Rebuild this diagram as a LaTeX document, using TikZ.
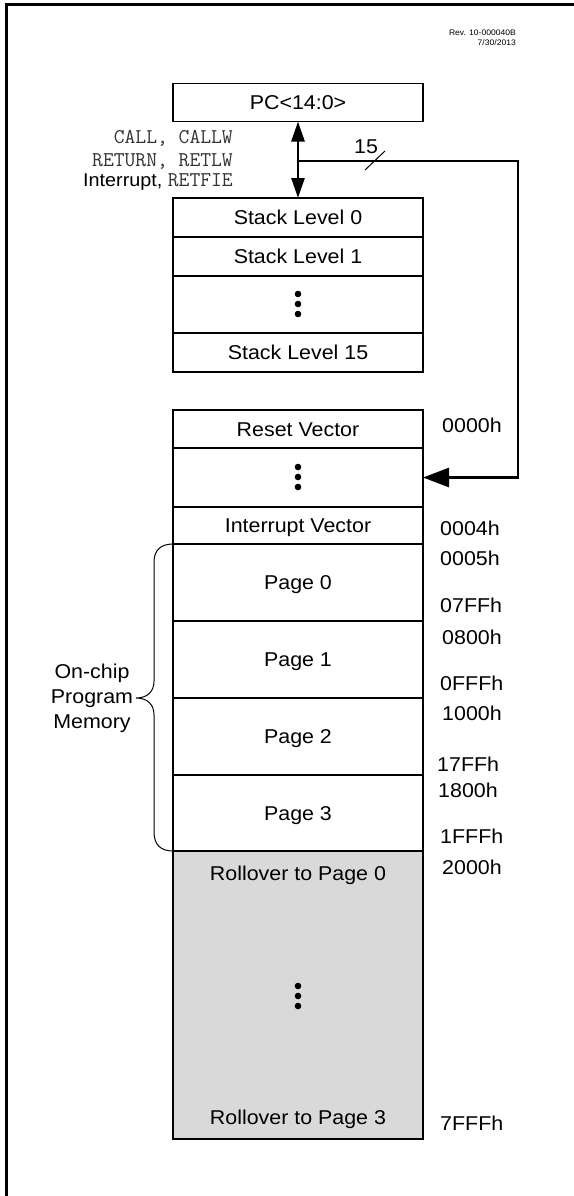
\documentclass[tikz,border=0pt]{standalone}
\usepackage{fontspec}
\setmainfont{Liberation Sans}[FakeStretch=1.07]
\usetikzlibrary{arrows.meta}
\definecolor{rollgray}{HTML}{D9D9D9}
\definecolor{monogray}{HTML}{333333}
\newcommand{\codetxt}[1]{{\color{monogray}\ttfamily\fontsize{21}{24}\selectfont #1}}
\begin{document}
\begin{tikzpicture}[x=1pt,y=-1pt,
  mem/.style={draw, line width=1.2pt, minimum width=250pt, inner sep=0pt, outer sep=0pt,
    font=\fontsize{20}{24}\selectfont, text height=14.3pt, text depth=0pt},
  txt/.style={inner sep=0pt, font=\fontsize{20}{24}\selectfont, text height=14.3pt, text depth=0pt},
  addr/.style={txt, anchor=west},
  lbl/.style={inner sep=0pt, font=\fontsize{18.5}{22}\selectfont},
  bus/.style={line width=2.7pt},
  dot/.style={fill=black}]
\useasboundingbox (0,0) rectangle (573,1196);
\fill[white] (0,0) rectangle (573,1196);
% frame
\draw[line width=3pt] (6.5,1200) -- (6.5,5) -- (580,5);
% revision
\node[inner sep=0pt, anchor=east, font=\fontsize{8}{9}\selectfont, text height=5.8pt, text depth=0pt] (rev) at (516,33) {Rev. 10-000040B};
\node[inner sep=0pt, anchor=east, font=\fontsize{8}{9}\selectfont, text height=5.8pt, text depth=0pt] (date) at (516,43) {7/30/2013};
% PC and stack
\node[mem, minimum height=38pt] (pc) at (298,102.5) {PC<14:0>};
\node[mem, minimum height=39pt] (s0) at (298,217.5) {Stack Level 0};
\node[mem, minimum height=39pt] (s1) at (298,256.5) {Stack Level 1};
\node[mem, minimum height=57pt] (sd) at (298,304.5) {};
\node[mem, minimum height=39pt] (s15) at (298,352.5) {Stack Level 15};
\fill[dot] (298,294) circle (3.3pt) (298,304) circle (3.3pt) (298,314) circle (3.3pt);
% program memory
\node[mem, minimum height=38pt] (rv) at (298,429) {Reset Vector};
\node[mem, minimum height=59pt] (vd) at (298,477.5) {};
\fill[dot] (298,467) circle (3.3pt) (298,477) circle (3.3pt) (298,487) circle (3.3pt);
\node[mem, minimum height=37pt] (iv) at (298,525.5) {Interrupt Vector};
\node[mem, minimum height=77pt] (p0) at (298,582.5) {Page 0};
\node[mem, minimum height=77pt] (p1) at (298,659.5) {Page 1};
\node[mem, minimum height=77pt] (p2) at (298,736.5) {Page 2};
\node[mem, minimum height=76pt] (p3) at (298,813) {Page 3};
\node[mem, minimum height=288pt, fill=rollgray] (ro) at (298,995) {};
\node[txt] (ro0) at (298,873) {Rollover to Page 0};
\node[txt] (ro3) at (298,1117) {Rollover to Page 3};
\fill[dot] (298,986) circle (3.3pt) (298,996) circle (3.3pt) (298,1006) circle (3.3pt);
% addresses
\node[addr] (a0000) at (442,425) {0000h};
\node[addr] (a0004) at (440,528) {0004h};
\node[addr] (a0005) at (440,558) {0005h};
\node[addr] (a07FF) at (440,605) {07FFh};
\node[addr] (a0800) at (442,637) {0800h};
\node[addr] (a0FFF) at (440,683) {0FFFh};
\node[addr] (a1000) at (442,713) {1000h};
\node[addr] (a17FF) at (437,764) {17FFh};
\node[addr] (a1800) at (438,790) {1800h};
\node[addr] (a1FFF) at (440,836) {1FFFh};
\node[addr] (a2000) at (442,867) {2000h};
\node[addr] (a7FFF) at (440,1123) {7FFFh};
% instruction labels
\node[lbl, anchor=base east] (l1) at (233,143.5) {\codetxt{CALL, CALLW}};
\node[lbl, anchor=base east] (l2) at (233,166) {\codetxt{RETURN, RETLW}};
\node[lbl, anchor=base east] (l3) at (233,186.5) {Interrupt, \codetxt{RETFIE}};
% bus arrows
\coordinate (br) at (298,161);
\coordinate (c1) at (518,161);
\coordinate (c2) at (518,477.5);
\draw[bus, {Triangle[length=20pt,width=13pt]}-{Triangle[length=20pt,width=13pt]}] (pc.south) -- (s0.north);
\draw[bus, -{Triangle[length=26pt,width=19pt]}] (br) -- (c1) -- (c2) -- (vd.east);
\draw[line width=1pt] (365,170) -- (385,151);
\node[txt] (w15) at (366,146) {15};
% brace
\draw[line width=1pt] (173,544) .. controls (161,544) and (154,550) .. (154,562)
  -- (154,681) .. controls (154,691) and (148,698) .. (136,698)
  .. controls (148,698) and (154,705) .. (154,715)
  -- (154,832) .. controls (154,845) and (161,851) .. (173,851);
\node[txt] (om1) at (92,671) {On-chip};
\node[txt] (om2) at (92,696) {Program};
\node[txt] (om3) at (92,721) {Memory};
\end{tikzpicture}
\end{document}
